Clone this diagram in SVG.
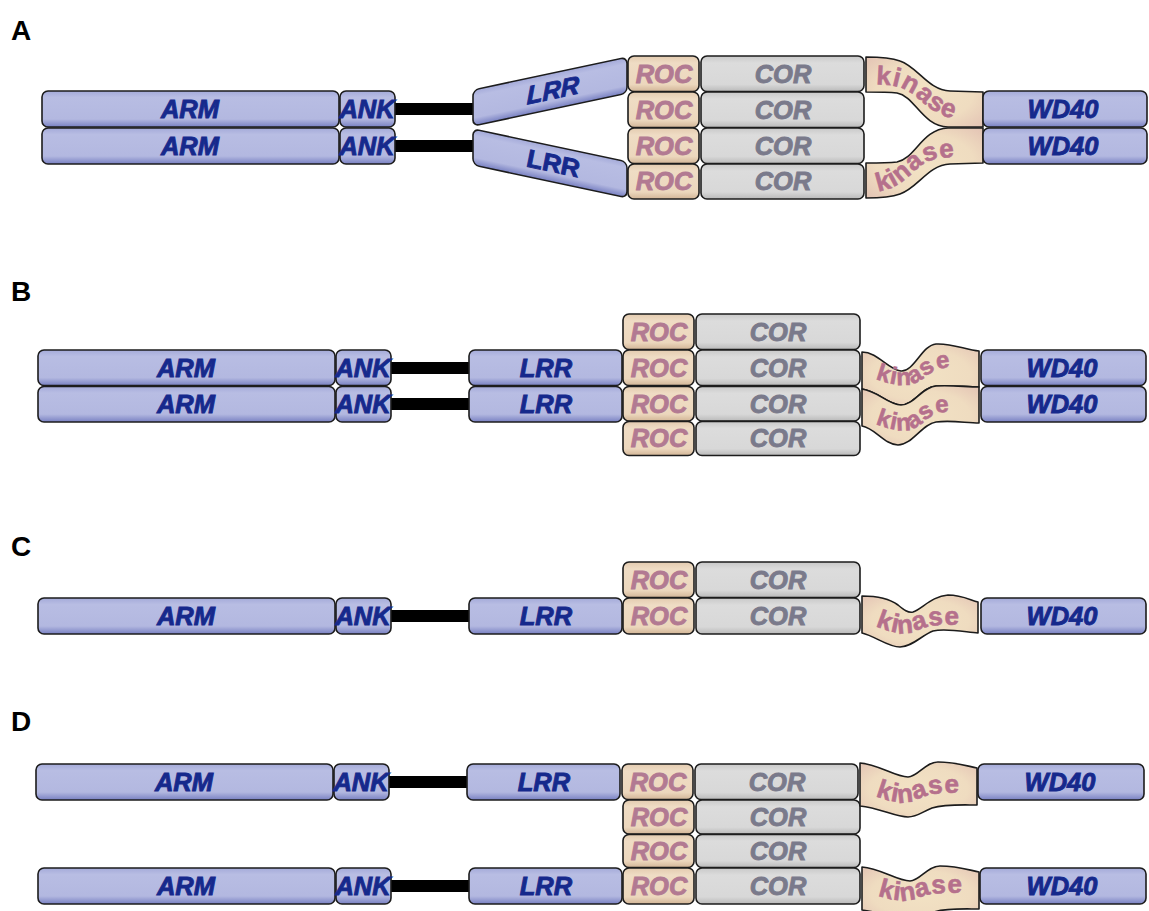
<svg xmlns="http://www.w3.org/2000/svg" width="1149" height="911" viewBox="0 0 1149 911">
<defs>
<linearGradient id="gBlue" x1="0" y1="0" x2="0" y2="1">
<stop offset="0" stop-color="#a4aad9"/><stop offset="0.18" stop-color="#b8bde3"/><stop offset="0.78" stop-color="#b3b8e0"/><stop offset="1" stop-color="#7880c2"/>
</linearGradient>
<linearGradient id="gRoc" x1="0" y1="0" x2="0" y2="1">
<stop offset="0" stop-color="#e3cbb0"/><stop offset="0.2" stop-color="#efdcc4"/><stop offset="0.8" stop-color="#ecd7bd"/><stop offset="1" stop-color="#d2b597"/>
</linearGradient>
<linearGradient id="gCor" x1="0" y1="0" x2="0" y2="1">
<stop offset="0" stop-color="#c9c9c9"/><stop offset="0.2" stop-color="#dcdcdc"/><stop offset="0.8" stop-color="#d8d8d8"/><stop offset="1" stop-color="#b9b9b9"/>
</linearGradient>
<radialGradient id="gKin" cx="0.5" cy="0.5" r="0.7">
<stop offset="0" stop-color="#f2e2c4"/><stop offset="0.6" stop-color="#efdcc0"/><stop offset="1" stop-color="#e3c3b4"/>
</radialGradient>
<path id="pA1" d="M 866,85 C 893,83 905,87 920,100 C 935,113 948,122 985,122"/>
<path id="pA2" d="M 866,192 C 893,192 903,182 918,168 C 933,156 945,157 985,157"/>
<path id="pB1" d="M 866,375 C 884,383 900,387 912,384 C 924,381 930,369 945,368 L 990,368"/>
<path id="pB2" d="M 866,420 C 884,428 900,433 912,429 C 924,425 930,412 945,412 L 990,412"/>
<path id="pC" d="M 866,622 C 884,630 900,636 912,632 C 924,628 930,625 945,625 L 990,625"/>
<path id="pD1" d="M 866,792 C 884,800 900,805 912,801 C 924,797 930,793 945,793 L 990,793"/>
<path id="pD2" d="M 868,892 C 886,899 902,903 914,899 C 926,895 932,893 947,893 L 992,893"/>
</defs>
<style>
.blue{fill:url(#gBlue);stroke:#1c1c1c;stroke-width:1.6}
.roc{fill:url(#gRoc);stroke:#1c1c1c;stroke-width:1.6}
.cor{fill:url(#gCor);stroke:#1c1c1c;stroke-width:1.6}
.kin{fill:url(#gKin);stroke:#1c1c1c;stroke-width:1.6;stroke-linejoin:round}
.t{font-family:"Liberation Sans",Arial,sans-serif;font-weight:bold;font-style:italic;font-size:25.5px;text-anchor:middle;stroke-width:0.9px}
.tb{fill:#16298c;stroke:#16298c}
.tr{fill:#b27a92;stroke:#b27a92}
.tc{fill:#7a7a8b;stroke:#7a7a8b}
.tk{font-family:"Liberation Sans",Arial,sans-serif;font-weight:bold;font-size:26px;letter-spacing:1px;fill:#b5708c;stroke:#b5708c;stroke-width:0.6px}
.sm{font-size:24px}
.lbl{font-family:"Liberation Sans",Arial,sans-serif;font-weight:bold;font-size:28px;fill:#000}
.link{fill:#000}
</style>
<rect width="1149" height="911" fill="#fff"/>

<g id="labels">
<text class="lbl" x="11" y="40">A</text>
<text class="lbl" x="11" y="301">B</text>
<text class="lbl" x="11" y="556">C</text>
<text class="lbl" x="11" y="731">D</text>
</g>

<g id="connectors">
<rect class="link" x="392" y="103" width="84" height="12"/>
<rect class="link" x="392" y="140" width="84" height="12"/>
<rect class="link" x="388" y="362" width="84" height="12"/>
<rect class="link" x="388" y="398" width="84" height="12"/>
<rect class="link" x="388" y="610" width="84" height="12"/>
<rect class="link" x="386" y="776" width="84" height="12"/>
<rect class="link" x="388" y="880" width="84" height="12"/>
</g>

<!-- Panel A -->
<g id="A-arm1"><rect class="blue" x="42" y="91" width="297" height="36" rx="6"/><text class="t tb" x="190" y="117.5">ARM</text></g>
<g id="A-arm2"><rect class="blue" x="42" y="128" width="297" height="36" rx="6"/><text class="t tb" x="190" y="154.5">ARM</text></g>
<g id="A-ank1"><rect class="blue" x="340" y="91" width="55" height="36" rx="6"/><text class="t tb" x="367" y="117.5">ANK</text></g>
<g id="A-ank2"><rect class="blue" x="340" y="128" width="55" height="36" rx="6"/><text class="t tb" x="367" y="154.5">ANK</text></g>
<g id="A-lrr1" transform="translate(473,90) skewY(-12)"><rect class="blue" x="0" y="0" width="154" height="36" rx="6"/><text class="t tb" x="80" y="26">LRR</text></g>
<g id="A-lrr2" transform="translate(473,129) skewY(12)"><rect class="blue" x="0" y="0" width="154" height="36" rx="6"/><text class="t tb" x="80" y="26">LRR</text></g>
<g id="A-roc1"><rect class="roc" x="628" y="56" width="71" height="35.5" rx="6"/><text class="t tr" x="664" y="82.5">ROC</text></g>
<g id="A-roc2"><rect class="roc" x="628" y="92" width="71" height="35.5" rx="6"/><text class="t tr" x="664" y="118.5">ROC</text></g>
<g id="A-roc3"><rect class="roc" x="628" y="128" width="71" height="35.5" rx="6"/><text class="t tr" x="664" y="154.5">ROC</text></g>
<g id="A-roc4"><rect class="roc" x="628" y="164" width="71" height="35" rx="6"/><text class="t tr" x="664" y="190">ROC</text></g>
<g id="A-cor1"><rect class="cor" x="701" y="56" width="163" height="35.5" rx="6"/><text class="t tc" x="783" y="82.5">COR</text></g>
<g id="A-cor2"><rect class="cor" x="701" y="92" width="163" height="35.5" rx="6"/><text class="t tc" x="783" y="118.5">COR</text></g>
<g id="A-cor3"><rect class="cor" x="701" y="128" width="163" height="35.5" rx="6"/><text class="t tc" x="783" y="154.5">COR</text></g>
<g id="A-cor4"><rect class="cor" x="701" y="164" width="163" height="35" rx="6"/><text class="t tc" x="783" y="190">COR</text></g>
<g id="A-kinase1"><path class="kin" d="M 866,57 C 880,57 892,58 900,61 C 918,67 928,90 950,91 L 983,92 L 983,127 L 948,127 C 922,126 915,96 897,93 C 888,92 878,92 866,92 Z"/><text class="tk"><textPath href="#pA1" startOffset="10">kinase</textPath></text></g>
<g id="A-kinase2"><path class="kin" d="M 866,198 C 880,198 892,197 900,194 C 918,188 928,165 950,164 L 983,163 L 983,128 L 948,128 C 922,129 915,159 897,162 C 888,163 878,163 866,163 Z"/><text class="tk"><textPath href="#pA2" startOffset="12">kinase</textPath></text></g>
<g id="A-wd40-1"><rect class="blue" x="983" y="91" width="164" height="36" rx="6"/><text class="t tb" x="1063" y="117.5">WD40</text></g>
<g id="A-wd40-2"><rect class="blue" x="983" y="128" width="164" height="36" rx="6"/><text class="t tb" x="1063" y="154.5">WD40</text></g>

<!-- Panel B -->
<g id="B-arm1"><rect class="blue" x="38" y="350" width="297" height="35.5" rx="6"/><text class="t tb" x="186" y="376.5">ARM</text></g>
<g id="B-arm2"><rect class="blue" x="38" y="386.5" width="297" height="35.5" rx="6"/><text class="t tb" x="186" y="413">ARM</text></g>
<g id="B-ank1"><rect class="blue" x="336" y="350" width="55" height="35.5" rx="6"/><text class="t tb" x="363" y="376.5">ANK</text></g>
<g id="B-ank2"><rect class="blue" x="336" y="386.5" width="55" height="35.5" rx="6"/><text class="t tb" x="363" y="413">ANK</text></g>
<g id="B-lrr1"><rect class="blue" x="469" y="350" width="153" height="35.5" rx="6"/><text class="t tb" x="546" y="376.5">LRR</text></g>
<g id="B-lrr2"><rect class="blue" x="469" y="386.5" width="153" height="35.5" rx="6"/><text class="t tb" x="546" y="413">LRR</text></g>
<g id="B-roc1"><rect class="roc" x="623" y="314" width="71" height="35.5" rx="6"/><text class="t tr" x="659" y="340.5">ROC</text></g>
<g id="B-roc2"><rect class="roc" x="623" y="350" width="71" height="35.5" rx="6"/><text class="t tr" x="659" y="376.5">ROC</text></g>
<g id="B-roc3"><rect class="roc" x="623" y="386.5" width="71" height="34.5" rx="6"/><text class="t tr" x="659" y="412.5">ROC</text></g>
<g id="B-roc4"><rect class="roc" x="623" y="421.5" width="71" height="34" rx="6"/><text class="t tr" x="659" y="447">ROC</text></g>
<g id="B-cor1"><rect class="cor" x="696" y="314" width="164" height="35.5" rx="6"/><text class="t tc" x="778" y="340.5">COR</text></g>
<g id="B-cor2"><rect class="cor" x="696" y="350" width="164" height="35.5" rx="6"/><text class="t tc" x="778" y="376.5">COR</text></g>
<g id="B-cor3"><rect class="cor" x="696" y="386.5" width="164" height="34.5" rx="6"/><text class="t tc" x="778" y="412.5">COR</text></g>
<g id="B-cor4"><rect class="cor" x="696" y="421.5" width="164" height="34" rx="6"/><text class="t tc" x="778" y="447">COR</text></g>
<g id="B-kinase1"><path class="kin" d="M 862,352 C 878,352 888,370 901,371 C 914,372 922,345 936,344 C 952,343 966,350 979,351 L 979,387 C 966,387 952,385 936,386 C 922,387 914,405 901,405 C 888,405 878,391 862,389 Z"/><text class="tk sm"><textPath href="#pB1" startOffset="10">kinase</textPath></text></g>
<g id="B-kinase2"><path class="kin" d="M 862,389 C 878,391 888,405 901,405 C 914,405 922,387 936,386 C 952,385 966,387 979,387 L 979,423 C 966,423 952,420 936,422 C 922,424 912,445 898,445 C 885,445 875,428 862,426 Z"/><text class="tk sm"><textPath href="#pB2" startOffset="10">kinase</textPath></text></g>
<g id="B-wd40-1"><rect class="blue" x="981" y="350" width="165" height="35.5" rx="6"/><text class="t tb" x="1062" y="376.5">WD40</text></g>
<g id="B-wd40-2"><rect class="blue" x="981" y="386.5" width="165" height="35.5" rx="6"/><text class="t tb" x="1062" y="413">WD40</text></g>

<!-- Panel C -->
<g id="C-arm"><rect class="blue" x="38" y="598" width="297" height="36" rx="6"/><text class="t tb" x="186" y="624.5">ARM</text></g>
<g id="C-ank"><rect class="blue" x="336" y="598" width="55" height="36" rx="6"/><text class="t tb" x="363" y="624.5">ANK</text></g>
<g id="C-lrr"><rect class="blue" x="469" y="598" width="153" height="36" rx="6"/><text class="t tb" x="546" y="624.5">LRR</text></g>
<g id="C-roc1"><rect class="roc" x="623" y="562" width="71" height="35.5" rx="6"/><text class="t tr" x="659" y="588.5">ROC</text></g>
<g id="C-roc2"><rect class="roc" x="623" y="598" width="71" height="36" rx="6"/><text class="t tr" x="659" y="624.5">ROC</text></g>
<g id="C-cor1"><rect class="cor" x="696" y="562" width="164" height="35.5" rx="6"/><text class="t tc" x="778" y="588.5">COR</text></g>
<g id="C-cor2"><rect class="cor" x="696" y="598" width="164" height="36" rx="6"/><text class="t tc" x="778" y="624.5">COR</text></g>
<g id="C-kinase"><path class="kin" d="M 862,596 C 876,596 890,599 898,605 C 904,610 908,613 913,612 C 922,609 932,596 948,595 C 962,595 970,600 978,602 L 978,633 C 965,632 946,628 933,631 C 922,635 912,647 900,647 C 888,647 875,636 862,633 Z"/><text class="tk"><textPath href="#pC" startOffset="10">kinase</textPath></text></g>
<g id="C-wd40"><rect class="blue" x="981" y="598" width="165" height="36" rx="6"/><text class="t tb" x="1062" y="624.5">WD40</text></g>

<!-- Panel D -->
<g id="D-arm1"><rect class="blue" x="36" y="764" width="297" height="36" rx="6"/><text class="t tb" x="184" y="790.5">ARM</text></g>
<g id="D-arm2"><rect class="blue" x="38" y="868" width="297" height="36" rx="6"/><text class="t tb" x="186" y="894.5">ARM</text></g>
<g id="D-ank1"><rect class="blue" x="334" y="764" width="55" height="36" rx="6"/><text class="t tb" x="361" y="790.5">ANK</text></g>
<g id="D-ank2"><rect class="blue" x="336" y="868" width="55" height="36" rx="6"/><text class="t tb" x="363" y="894.5">ANK</text></g>
<g id="D-lrr1"><rect class="blue" x="467" y="764" width="153" height="36" rx="6"/><text class="t tb" x="544" y="790.5">LRR</text></g>
<g id="D-lrr2"><rect class="blue" x="469" y="868" width="153" height="36" rx="6"/><text class="t tb" x="546" y="894.5">LRR</text></g>
<g id="D-roc1"><rect class="roc" x="622" y="764" width="71" height="35.5" rx="6"/><text class="t tr" x="658" y="790.5">ROC</text></g>
<g id="D-roc2"><rect class="roc" x="623" y="800" width="71" height="34" rx="6"/><text class="t tr" x="659" y="825.5">ROC</text></g>
<g id="D-roc3"><rect class="roc" x="623" y="834.5" width="71" height="33" rx="6"/><text class="t tr" x="659" y="859.5">ROC</text></g>
<g id="D-roc4"><rect class="roc" x="623" y="868" width="71" height="36" rx="6"/><text class="t tr" x="659" y="894.5">ROC</text></g>
<g id="D-cor1"><rect class="cor" x="695" y="764" width="163" height="35.5" rx="6"/><text class="t tc" x="777" y="790.5">COR</text></g>
<g id="D-cor2"><rect class="cor" x="696" y="800" width="164" height="34" rx="6"/><text class="t tc" x="778" y="825.5">COR</text></g>
<g id="D-cor3"><rect class="cor" x="696" y="834.5" width="164" height="33" rx="6"/><text class="t tc" x="778" y="859.5">COR</text></g>
<g id="D-cor4"><rect class="cor" x="696" y="868" width="164" height="36" rx="6"/><text class="t tc" x="778" y="894.5">COR</text></g>
<g id="D-kinase1"><path class="kin" d="M 860,763 C 878,764 895,777 908,777 C 918,777 925,762 938,762 C 955,762 967,766 977,768 L 977,805 C 962,805 945,804 932,808 C 922,812 917,817 908,817 C 895,817 880,808 860,806 Z"/><text class="tk"><textPath href="#pD1" startOffset="10">kinase</textPath></text></g>
<g id="D-kinase2"><path class="kin" d="M 862,867 C 880,868 897,881 910,881 C 920,881 927,866 940,866 C 957,866 969,870 979,872 L 979,909 C 964,909 947,908 934,912 C 924,916 919,921 910,921 C 897,921 882,912 862,910 Z"/><text class="tk"><textPath href="#pD2" startOffset="10">kinase</textPath></text></g>
<g id="D-wd40-1"><rect class="blue" x="978" y="764" width="166" height="36" rx="6"/><text class="t tb" x="1060" y="790.5">WD40</text></g>
<g id="D-wd40-2"><rect class="blue" x="980" y="868" width="166" height="36" rx="6"/><text class="t tb" x="1062" y="894.5">WD40</text></g>
</svg>
